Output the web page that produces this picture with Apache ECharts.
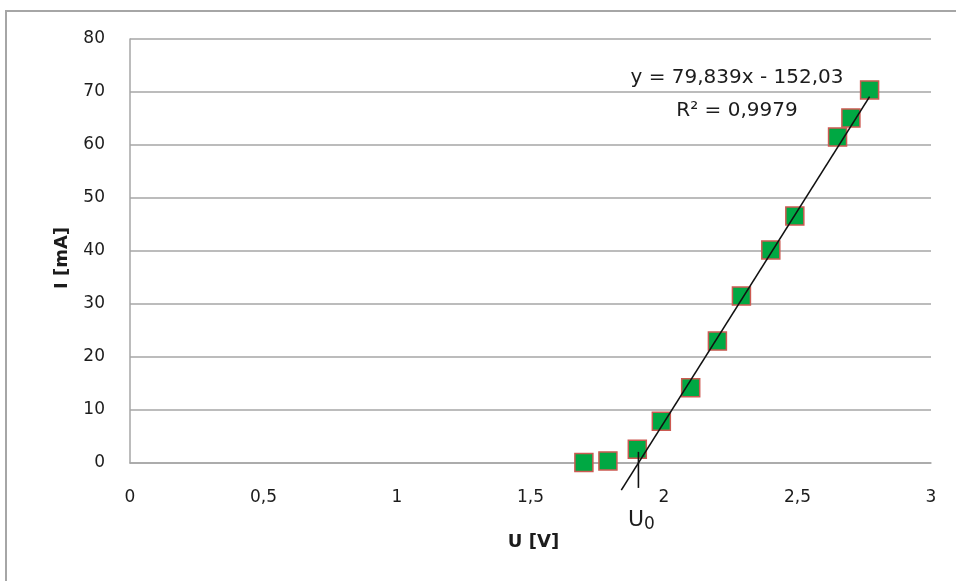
<!DOCTYPE html>
<html>
<head>
<meta charset="utf-8">
<script src="https://cdn.jsdelivr.net/npm/echarts@6/dist/echarts.min.js"></script>
<style>
  html, body { margin: 0; padding: 0; background: #fff; }
  #chart { width: 956px; height: 581px; }
</style>
</head>
<body>
<div id="chart"></div>
<script>
// Measured diode characteristic: voltage U [V] and current I [mA]
const voltage = [1.70, 1.79, 1.90, 1.99, 2.10, 2.20, 2.29, 2.40, 2.49, 2.65, 2.70, 2.77];
const current = [0.1, 0.4, 2.6, 7.9, 14.2, 23.0, 31.5, 40.2, 46.6, 61.5, 65.1, 70.4];

// Linear trend line y = a*x + b, as stated in its label
const slope = 79.839;
const intercept = -152.03;
const rSquared = 0.9979;
const trendRange = [1.84, 2.77];

// Axis ranges and ticks
const xTicks = { min: 0, max: 3, step: 0.5 };
const yTicks = { min: 0, max: 80, step: 10 };

const comma = v => String(v).replace('.', ',');
const u0 = -intercept / slope;   // threshold voltage where the trend line crosses I = 0

const points = voltage.map((u, i) => [u, current[i]]);
const trend = trendRange.map(u => [u, slope * u + intercept]);
const u0Mark = [[u0, 2.1], [u0, -4.7]];

const chart = echarts.init(document.getElementById('chart'), null, { renderer: 'canvas' });
const font = 'DejaVu Sans, Verdana, sans-serif';
const ink = '#1c1c1c';
const gridGray = '#a6a6a6';

chart.setOption({
  animation: false,
  backgroundColor: '#fff',
  grid: { left: 130, right: 25, top: 39, bottom: 118 },
  xAxis: {
    type: 'value', min: xTicks.min, max: xTicks.max, interval: xTicks.step,
    name: 'U [V]', nameLocation: 'middle', nameGap: 70,
    nameTextStyle: { fontFamily: font, fontSize: 18, fontWeight: 'bold', color: ink, padding: [0, 0, 0, 6] },
    axisLine: { show: true, lineStyle: { color: gridGray, width: 1.5 } },
    axisTick: { show: false },
    splitLine: { show: false },
    axisLabel: { margin: 26, fontFamily: font, fontSize: 17, color: ink, formatter: comma }
  },
  yAxis: {
    type: 'value', min: yTicks.min, max: yTicks.max, interval: yTicks.step,
    axisLine: { show: true, lineStyle: { color: gridGray, width: 1.5 } },
    axisTick: { show: false },
    splitLine: { show: true, lineStyle: { color: gridGray, width: 1.5 } },
    axisLabel: { margin: 25, fontFamily: font, fontSize: 17, color: ink, formatter: comma }
  },
  series: [
    {
      type: 'scatter', data: points, symbol: 'rect', symbolSize: 18,
      itemStyle: { color: '#00a843', borderColor: '#cc5a52', borderWidth: 1.5, opacity: 1 },
      z: 2
    },
    {
      type: 'line', data: trend, showSymbol: false, symbol: 'none', clip: false,
      lineStyle: { color: '#111', width: 1.6 }, z: 3, silent: true
    },
    {
      type: 'line', data: u0Mark, showSymbol: false, symbol: 'none', clip: false,
      lineStyle: { color: '#111', width: 1.6 }, z: 3, silent: true
    }
  ],
  graphic: [
    // chart frame (top and left edges)
    { type: 'polyline', shape: { points: [[6, 581], [6, 11], [956, 11]] },
      style: { stroke: gridGray, lineWidth: 2, fill: null } },
    // vertical axis title
    { type: 'text', x: 62, y: 258, rotation: Math.PI / 2,
      style: { text: 'I [mA]', font: 'bold 18px ' + font, fill: ink, align: 'center', verticalAlign: 'middle' } },
    // trend line equation and coefficient of determination
    { type: 'text', x: 737, y: 78,
      style: { text: 'y = ' + comma(slope) + 'x - ' + comma(-intercept), font: '20px ' + font, fill: ink,
               align: 'center', verticalAlign: 'middle' } },
    { type: 'text', x: 737, y: 111,
      style: { text: 'R² = ' + comma(rSquared), font: '20px ' + font, fill: ink,
               align: 'center', verticalAlign: 'middle' } },
    // threshold voltage label
    { type: 'text', x: 628, y: 507,
      style: { rich: { u: { font: '22px ' + font, fill: ink }, s: { font: '17px ' + font, fill: ink, padding: [9, 0, 0, 0] } },
               text: '{u|U}{s|0}' } }
  ]
});
</script>
</body>
</html>
